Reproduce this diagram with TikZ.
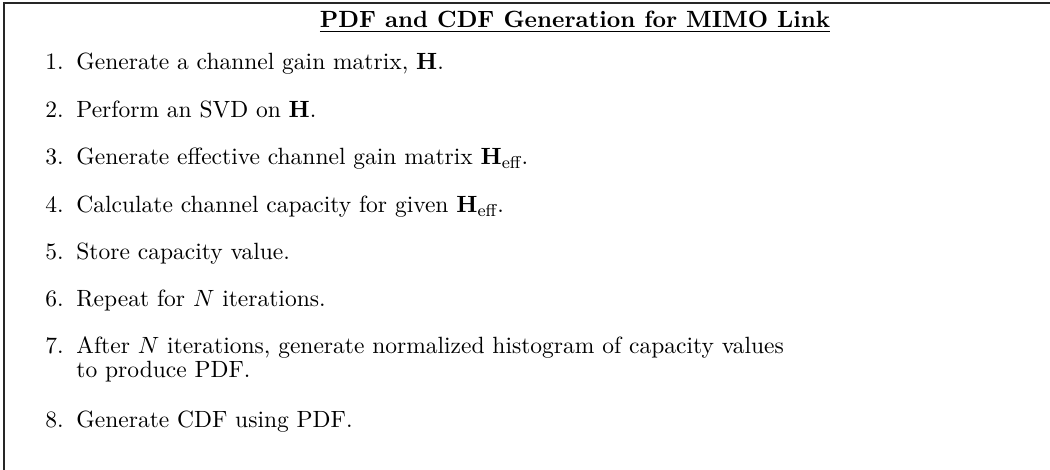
\documentclass[tikz,border=0pt]{standalone}
\usepackage{amsmath}
\begin{document}
\begin{tikzpicture}[x=0.466pt,y=-0.466pt,
  frame/.style={line width=1pt,black!85},
  txt/.style={inner sep=0pt,font=\fontsize{10.95}{13.6}\selectfont},
  numlabel/.style={txt,anchor=base east},
  itemtext/.style={txt,anchor=base west},
  heading/.style={txt,anchor=base}]
\useasboundingbox (0,0) rectangle (1050,470);
% open frame: top rule and left rule
\coordinate (tl) at (4,3);
\coordinate (tr) at (1050,3);
\coordinate (bl) at (4,470);
\draw[frame] (bl) -- (tl) -- (tr);
% heading
\node[heading] (title) at (575,28) {\underline{\textbf{PDF and CDF Generation for MIMO Link}}};
% numbered steps
\def\nx{64}
\def\tx{76}
\node[numlabel] (n1) at (\nx,70) {1.};
\node[itemtext] (s1) at (\tx,70) {Generate a channel gain matrix, $\mathbf{H}$.};
\node[numlabel] (n2) at (\nx,118) {2.};
\node[itemtext] (s2) at (\tx,118) {Perform an SVD on $\mathbf{H}$.};
\node[numlabel] (n3) at (\nx,165) {3.};
\node[itemtext] (s3) at (\tx,165) {Generate effective channel gain matrix $\mathbf{H}_{\text{eff}}$.};
\node[numlabel] (n4) at (\nx,213) {4.};
\node[itemtext] (s4) at (\tx,213) {Calculate channel capacity for given $\mathbf{H}_{\text{eff}}$.};
\node[numlabel] (n5) at (\nx,260) {5.};
\node[itemtext] (s5) at (\tx,260) {Store capacity value.};
\node[numlabel] (n6) at (\nx,307) {6.};
\node[itemtext] (s6) at (\tx,307) {Repeat for $N$ iterations.};
\node[numlabel] (n7) at (\nx,354) {7.};
\node[itemtext] (s7) at (\tx,354) {After $N$ iterations, generate normalized histogram of capacity values};
\node[itemtext] (s7b) at (\tx,378) {to produce PDF.};
\node[numlabel] (n8) at (\nx,428) {8.};
\node[itemtext] (s8) at (\tx,428) {Generate CDF using PDF.};
\end{tikzpicture}
\end{document}
